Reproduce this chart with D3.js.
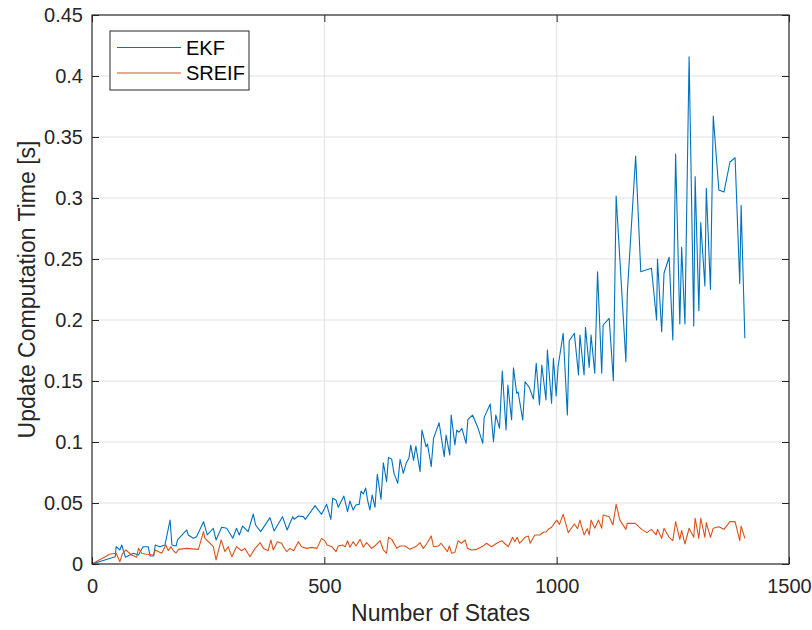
<!DOCTYPE html>
<html>
<head>
<meta charset="utf-8">
<script src="https://cdn.jsdelivr.net/npm/d3@7"></script>
<style>
  html, body { margin: 0; padding: 0; background: #fff; }
  svg { display: block; font-family: "Liberation Sans", Arial, Helvetica, sans-serif; }
</style>
</head>
<body>
<svg id="chart" width="812" height="630"></svg>
<script>
// EKF update time per state count
const ekfStates = [0, 50, 52, 60, 64, 72, 89, 100, 110, 121, 125, 133, 136, 146, 157, 168, 172, 181, 184, 204, 207, 218, 225, 240, 248, 261, 267, 279, 290, 303, 311, 317, 324, 336, 347, 352, 363, 383, 392, 410, 420, 432, 435, 444, 455, 459, 480, 494, 505, 514, 518, 525, 530, 542, 550, 555, 562, 568, 575, 579, 584, 589, 593, 598, 603, 609, 614, 622, 627, 634, 638, 645, 650, 658, 663, 670, 676, 682, 686, 692, 697, 706, 710, 719, 722, 730, 735, 747, 758, 762, 770, 773, 781, 785, 790, 796, 805, 809, 819, 831, 841, 844, 857, 864, 869, 877, 883, 891, 895, 903, 907, 914, 917, 927, 932, 941, 950, 956, 963, 968, 977, 980, 989, 993, 999, 1003, 1014, 1023, 1027, 1038, 1047, 1050, 1059, 1062, 1070, 1074, 1082, 1088, 1097, 1100, 1113, 1122, 1128, 1149, 1152, 1170, 1181, 1204, 1215, 1217, 1226, 1231, 1242, 1250, 1256, 1265, 1269, 1276, 1285, 1295, 1298, 1306, 1310, 1319, 1322, 1331, 1337, 1349, 1360, 1373, 1384, 1394, 1397, 1405];
const ekfTime = [0, 0.006, 0.0142, 0.0115, 0.0156, 0.0055, 0.0088, 0.0074, 0.0142, 0.0142, 0.0066, 0.0066, 0.0156, 0.0142, 0.0156, 0.036, 0.0156, 0.0148, 0.0197, 0.0279, 0.0238, 0.0211, 0.0224, 0.0347, 0.0238, 0.0293, 0.0197, 0.0301, 0.0293, 0.0211, 0.0293, 0.0238, 0.0311, 0.0265, 0.041, 0.032, 0.0265, 0.038, 0.027, 0.0388, 0.0279, 0.0388, 0.0366, 0.0393, 0.0388, 0.0366, 0.0478, 0.0407, 0.0489, 0.0366, 0.0538, 0.0525, 0.0465, 0.0557, 0.0429, 0.0516, 0.0443, 0.0484, 0.0489, 0.0598, 0.0574, 0.0623, 0.0525, 0.0443, 0.0566, 0.0465, 0.0735, 0.053, 0.083, 0.0675, 0.0874, 0.0858, 0.0743, 0.0661, 0.0858, 0.0743, 0.0825, 0.0866, 0.0975, 0.0850, 0.0967, 0.0757, 0.1098, 0.0961, 0.0984, 0.0798, 0.103, 0.1158, 0.088, 0.1057, 0.0893, 0.1221, 0.0975, 0.1098, 0.1080, 0.1112, 0.0989, 0.1186, 0.1221, 0.1112, 0.0989, 0.1202, 0.1311, 0.1002, 0.1221, 0.1112, 0.1582, 0.1098, 0.1467, 0.118, 0.1609, 0.1399, 0.1410, 0.118, 0.1494, 0.1448, 0.1352, 0.1645, 0.1303, 0.1631, 0.1344, 0.1754, 0.1317, 0.1686, 0.1377, 0.1617, 0.1891, 0.1221, 0.183, 0.1891, 0.1549, 0.1877, 0.1549, 0.194, 0.1612, 0.1877, 0.1563, 0.2396, 0.1563, 0.1959, 0.2014, 0.1502, 0.3016, 0.1658, 0.2219, 0.3344, 0.2396, 0.2424, 0.2, 0.25, 0.1904, 0.2383, 0.2514, 0.1836, 0.3361, 0.1967, 0.2596, 0.1967, 0.4158, 0.1951, 0.3175, 0.2076, 0.2798, 0.2279, 0.308, 0.2251, 0.3672, 0.3066, 0.3049, 0.3295, 0.333, 0.23, 0.294, 0.185];

// SREIF update time per state count
const sreifStates = [0, 39, 52, 60, 66, 73, 85, 96, 100, 107, 114, 132, 136, 150, 159, 164, 170, 175, 181, 186, 204, 229, 240, 243, 254, 261, 267, 278, 286, 293, 301, 311, 322, 329, 340, 351, 362, 369, 379, 385, 390, 399, 408, 412, 419, 426, 434, 444, 451, 462, 473, 484, 494, 501, 506, 516, 525, 530, 539, 545, 550, 555, 562, 568, 577, 584, 591, 602, 611, 620, 627, 634, 638, 645, 656, 663, 674, 684, 699, 706, 713, 720, 730, 735, 746, 751, 765, 769, 774, 781, 788, 795, 803, 808, 817, 828, 842, 849, 860, 871, 882, 889, 896, 905, 910, 915, 920, 932, 939, 943, 953, 964, 971, 978, 982, 989, 1000, 1006, 1014, 1025, 1038, 1045, 1050, 1059, 1066, 1070, 1074, 1082, 1090, 1097, 1100, 1113, 1121, 1128, 1136, 1149, 1152, 1169, 1183, 1194, 1204, 1214, 1217, 1226, 1231, 1242, 1250, 1256, 1265, 1269, 1276, 1285, 1295, 1298, 1306, 1310, 1319, 1322, 1331, 1337, 1349, 1360, 1373, 1384, 1394, 1397, 1405];
const sreifTime = [0, 0.0082, 0.0088, 0.0019, 0.0088, 0.0115, 0.0074, 0.0055, 0.0128, 0.0088, 0.0082, 0.0074, 0.0115, 0.0088, 0.0156, 0.011, 0.0142, 0.0109, 0.009, 0.012, 0.0128, 0.012, 0.0265, 0.021, 0.017, 0.0142, 0.0033, 0.0197, 0.0101, 0.0142, 0.006, 0.0142, 0.0109, 0.0128, 0.006, 0.0128, 0.0175, 0.0128, 0.0109, 0.0197, 0.0115, 0.0183, 0.0170, 0.0142, 0.0101, 0.0128, 0.0109, 0.0183, 0.0142, 0.0128, 0.0136, 0.0128, 0.021, 0.019, 0.0156, 0.0142, 0.0101, 0.0148, 0.0156, 0.0142, 0.0191, 0.0137, 0.0183, 0.0148, 0.0202, 0.0137, 0.0175, 0.0128, 0.0156, 0.0191, 0.0115, 0.0088, 0.0219, 0.0202, 0.0128, 0.0148, 0.0148, 0.012, 0.0148, 0.0175, 0.0128, 0.0164, 0.023, 0.0142, 0.0148, 0.0170, 0.0101, 0.0148, 0.0088, 0.0095, 0.0191, 0.0170, 0.0197, 0.0128, 0.0115, 0.0120, 0.0148, 0.0170, 0.0142, 0.017, 0.0191, 0.0164, 0.0142, 0.0219, 0.0183, 0.0219, 0.017, 0.0219, 0.0229, 0.017, 0.0238, 0.0238, 0.0260, 0.0265, 0.0285, 0.0301, 0.036, 0.0325, 0.0407, 0.0257, 0.0328, 0.029, 0.036, 0.0238, 0.029, 0.0238, 0.036, 0.0293, 0.036, 0.0293, 0.0402, 0.0388, 0.032, 0.0489, 0.036, 0.0284, 0.0333, 0.0333, 0.0284, 0.0257, 0.0284, 0.0238, 0.0284, 0.021, 0.0293, 0.0219, 0.0191, 0.0347, 0.0202, 0.0275, 0.0164, 0.0293, 0.0219, 0.0375, 0.021, 0.0375, 0.0219, 0.0339, 0.0219, 0.0293, 0.0306, 0.0284, 0.0347, 0.0347, 0.0191, 0.0311, 0.021];

const xTicks = [0, 500, 1000, 1500];
const yTicks = [0, 0.05, 0.1, 0.15, 0.2, 0.25, 0.3, 0.35, 0.4, 0.45];
const seriesNames = ["EKF", "SREIF"];
const seriesColors = ["#0072BD", "#D95319"];

const svg = d3.select("#chart");
const plot = { left: 92, right: 789, top: 15, bottom: 564 };

const x = d3.scaleLinear().domain([0, 1500]).range([plot.left, plot.right]);
const y = d3.scaleLinear().domain([0, 0.45]).range([plot.bottom, plot.top]);

const axisColor = "#262626";
const gridColor = "#e1e1e1";
const tickLen = 7;

// grid lines
const grid = svg.append("g");
grid.selectAll("line.gx").data(xTicks.slice(1, -1)).join("line")
  .attr("x1", d => x(d)).attr("x2", d => x(d))
  .attr("y1", plot.top).attr("y2", plot.bottom)
  .attr("stroke", gridColor).attr("stroke-width", 1);
grid.selectAll("line.gy").data(yTicks.slice(1, -1)).join("line")
  .attr("y1", d => y(d)).attr("y2", d => y(d))
  .attr("x1", plot.left).attr("x2", plot.right)
  .attr("stroke", gridColor).attr("stroke-width", 1);

// data lines
const line = d3.line().x(d => x(d[0])).y(d => y(d[1]));
const seriesData = [
  d3.zip(ekfStates, ekfTime),
  d3.zip(sreifStates, sreifTime)
];
svg.append("g").selectAll("path").data(seriesData).join("path")
  .attr("d", line)
  .attr("fill", "none")
  .attr("stroke", (d, i) => seriesColors[i])
  .attr("stroke-width", 1.1)
  .attr("stroke-linejoin", "round");

// axes: ticks pointing inward on all four sides, labels left & bottom
const fontSize = 20;
const bottomAxis = d3.axisBottom(x).tickValues(xTicks).tickSizeInner(-tickLen).tickSizeOuter(0).tickPadding(15).tickFormat(d => String(d));
const topAxis = d3.axisTop(x).tickValues(xTicks).tickSizeInner(-tickLen).tickSizeOuter(0).tickFormat("");
const leftAxis = d3.axisLeft(y).tickValues(yTicks).tickSizeInner(-tickLen).tickSizeOuter(0).tickPadding(9).tickFormat(d => String(+d.toFixed(2)));
const rightAxis = d3.axisRight(y).tickValues(yTicks).tickSizeInner(-tickLen).tickSizeOuter(0).tickFormat("");

function styleAxis(g) {
  g.select(".domain").remove();
  g.selectAll(".tick line").attr("stroke", axisColor).attr("stroke-width", 1);
  g.selectAll(".tick text").attr("fill", axisColor).attr("font-size", fontSize)
    .attr("font-family", "'Liberation Sans', Arial, sans-serif");
}
svg.append("g").attr("transform", `translate(0,${plot.bottom})`).call(bottomAxis).call(styleAxis);
svg.append("g").attr("transform", `translate(0,${plot.top})`).call(topAxis).call(styleAxis);
svg.append("g").attr("transform", `translate(${plot.left},0)`).call(leftAxis).call(styleAxis);
svg.append("g").attr("transform", `translate(${plot.right},0)`).call(rightAxis).call(styleAxis);

// axes box
svg.append("rect")
  .attr("x", plot.left).attr("y", plot.top)
  .attr("width", plot.right - plot.left).attr("height", plot.bottom - plot.top)
  .attr("fill", "none").attr("stroke", axisColor).attr("stroke-width", 1.2);

// axis titles
svg.append("text")
  .attr("x", (plot.left + plot.right) / 2).attr("y", 621)
  .attr("text-anchor", "middle").attr("font-size", 23).attr("fill", axisColor)
  .text("Number of States");
svg.append("text")
  .attr("transform", `translate(35,${(plot.top + plot.bottom) / 2}) rotate(-90)`)
  .attr("text-anchor", "middle").attr("font-size", 23).attr("fill", axisColor)
  .text("Update Computation Time [s]");

// legend
const legend = svg.append("g");
legend.append("rect")
  .attr("x", 110).attr("y", 31).attr("width", 139).attr("height", 59)
  .attr("fill", "#fff").attr("stroke", axisColor).attr("stroke-width", 1);
seriesNames.forEach((name, i) => {
  const ly = 47.5 + i * 25.5;
  legend.append("line")
    .attr("x1", 117).attr("x2", 181).attr("y1", ly).attr("y2", ly)
    .attr("stroke", seriesColors[i]).attr("stroke-width", 1.1);
  legend.append("text")
    .attr("x", 186).attr("y", ly).attr("dy", "0.36em")
    .attr("font-size", 20).attr("fill", "#000")
    .text(name);
});
</script>
</body>
</html>
